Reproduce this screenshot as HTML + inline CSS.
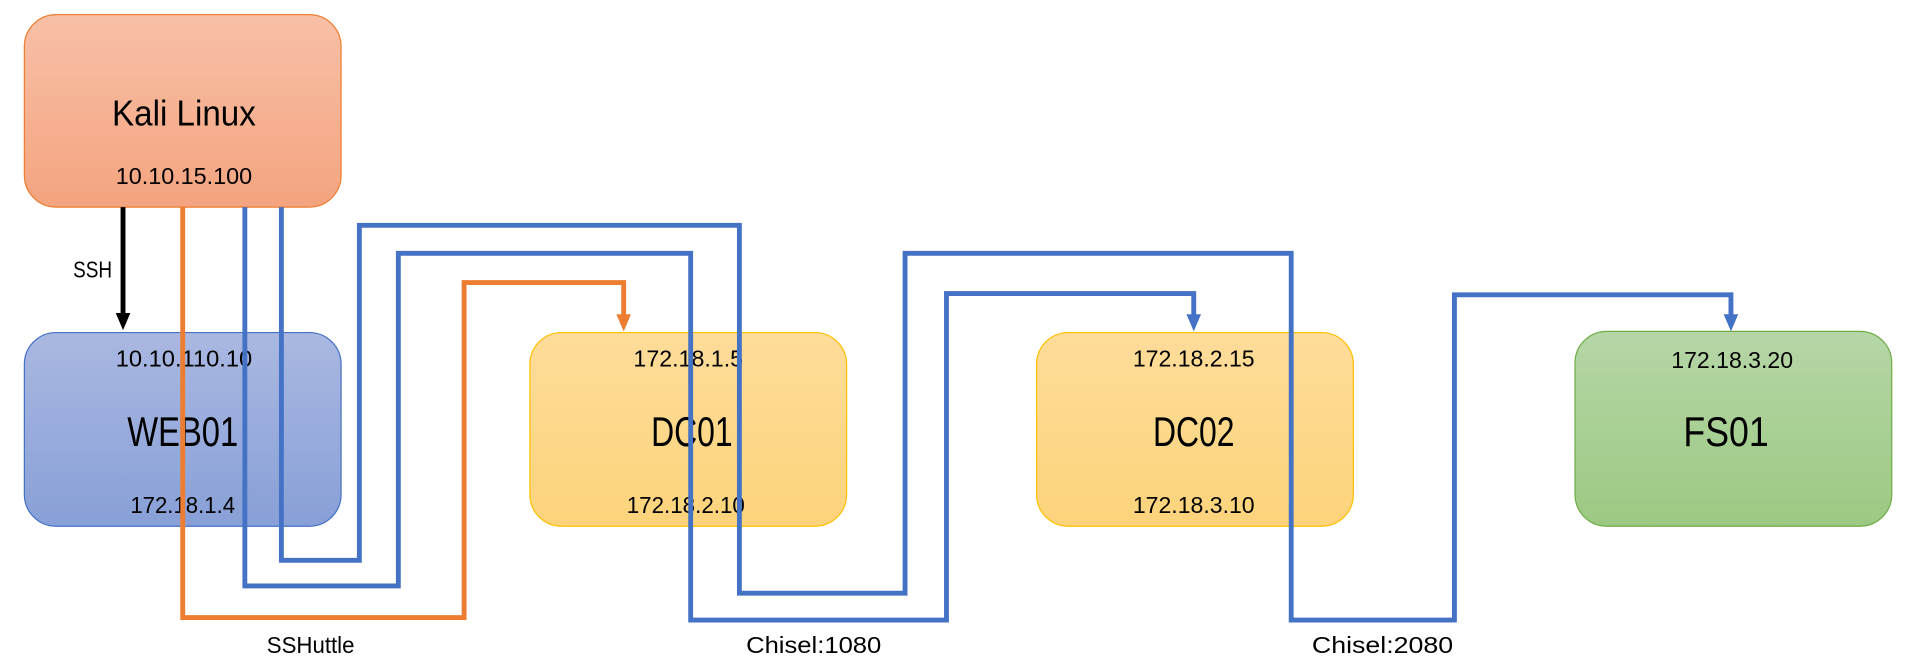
<!DOCTYPE html>
<html><head><meta charset="utf-8"><style>
html,body{margin:0;padding:0;background:#fff;width:1910px;height:669px;overflow:hidden}
svg{display:block}
text{font-family:"Liberation Sans",sans-serif;fill:#000;text-anchor:middle}
</style></head><body>
<svg width="1910" height="669" viewBox="0 0 1568 549.2" preserveAspectRatio="none">
<defs>
<linearGradient id="gk" x1="0" y1="0" x2="0" y2="1"><stop offset="0" stop-color="#f8c0a7"/><stop offset="1" stop-color="#f4a47f"/></linearGradient>
<linearGradient id="gw" x1="0" y1="0" x2="0" y2="1"><stop offset="0" stop-color="#aab8e1"/><stop offset="1" stop-color="#88a0d7"/></linearGradient>
<linearGradient id="gd" x1="0" y1="0" x2="0" y2="1"><stop offset="0" stop-color="#fedc9a"/><stop offset="1" stop-color="#fdd47b"/></linearGradient>
<linearGradient id="gf" x1="0" y1="0" x2="0" y2="1"><stop offset="0" stop-color="#b6d6a7"/><stop offset="1" stop-color="#9cc982"/></linearGradient>
</defs>
<rect x="20" y="12" width="260" height="158" rx="26" fill="url(#gk)" stroke="#ed7d31" stroke-width="1"/>
<rect x="20" y="273" width="260" height="159" rx="26" fill="url(#gw)" stroke="#4472c4" stroke-width="1"/>
<rect x="435" y="273" width="260" height="159" rx="26" fill="url(#gd)" stroke="#ffc000" stroke-width="1"/>
<rect x="851" y="273" width="260" height="159" rx="26" fill="url(#gd)" stroke="#ffc000" stroke-width="1"/>
<rect x="1293" y="272" width="260" height="160" rx="26" fill="url(#gf)" stroke="#70ad47" stroke-width="1"/>
<g font-size="19" lengthAdjust="spacingAndGlyphs">
<text x="151" y="151" textLength="112" lengthAdjust="spacingAndGlyphs">10.10.15.100</text>
<text x="151" y="301" textLength="112" lengthAdjust="spacingAndGlyphs">10.10.110.10</text>
<text x="150" y="421" textLength="86" lengthAdjust="spacingAndGlyphs">172.18.1.4</text>
<text x="565" y="301" textLength="90" lengthAdjust="spacingAndGlyphs">172.18.1.5</text>
<text x="563" y="421" textLength="97" lengthAdjust="spacingAndGlyphs">172.18.2.10</text>
<text x="980" y="301" textLength="100" lengthAdjust="spacingAndGlyphs">172.18.2.15</text>
<text x="980" y="421" textLength="100" lengthAdjust="spacingAndGlyphs">172.18.3.10</text>
<text x="1422" y="302" textLength="100" lengthAdjust="spacingAndGlyphs">172.18.3.20</text>
<text x="76" y="228" textLength="32" lengthAdjust="spacingAndGlyphs">SSH</text>
<text x="255" y="536" textLength="72" lengthAdjust="spacingAndGlyphs">SSHuttle</text>
<text x="668" y="536" textLength="111" lengthAdjust="spacingAndGlyphs">Chisel:1080</text>
<text x="1135" y="536" textLength="116" lengthAdjust="spacingAndGlyphs">Chisel:2080</text>
</g>
<text x="151" y="103" font-size="30" textLength="118" lengthAdjust="spacingAndGlyphs">Kali Linux</text>
<text x="150" y="366" font-size="34" textLength="91" lengthAdjust="spacingAndGlyphs">WEB01</text>
<text x="568" y="366" font-size="34" textLength="67" lengthAdjust="spacingAndGlyphs">DC01</text>
<text x="980" y="366" font-size="34" textLength="67" lengthAdjust="spacingAndGlyphs">DC02</text>
<text x="1417" y="366" font-size="34" textLength="70" lengthAdjust="spacingAndGlyphs">FS01</text>
<g fill="none" stroke-width="4" stroke-linejoin="miter">
<path d="M101 170V258" stroke="#000"/>
<path d="M150 170V507H381V232H512V260" stroke="#ed7d31"/>
<path d="M201 170V481H327V208H567V509H777V241H980V260" stroke="#4472c4"/>
<path d="M231 170V460H295V185H607V487H743V208H1060V509H1194V242H1421V260" stroke="#4472c4"/>
</g>
<polygon points="95,257 107,257 101,271" fill="#000"/>
<polygon points="506,258 518,258 512,272" fill="#ed7d31"/>
<polygon points="974,258 986,258 980,272" fill="#4472c4"/>
<polygon points="1415,258 1427,258 1421,272" fill="#4472c4"/>
</svg>
</body></html>
